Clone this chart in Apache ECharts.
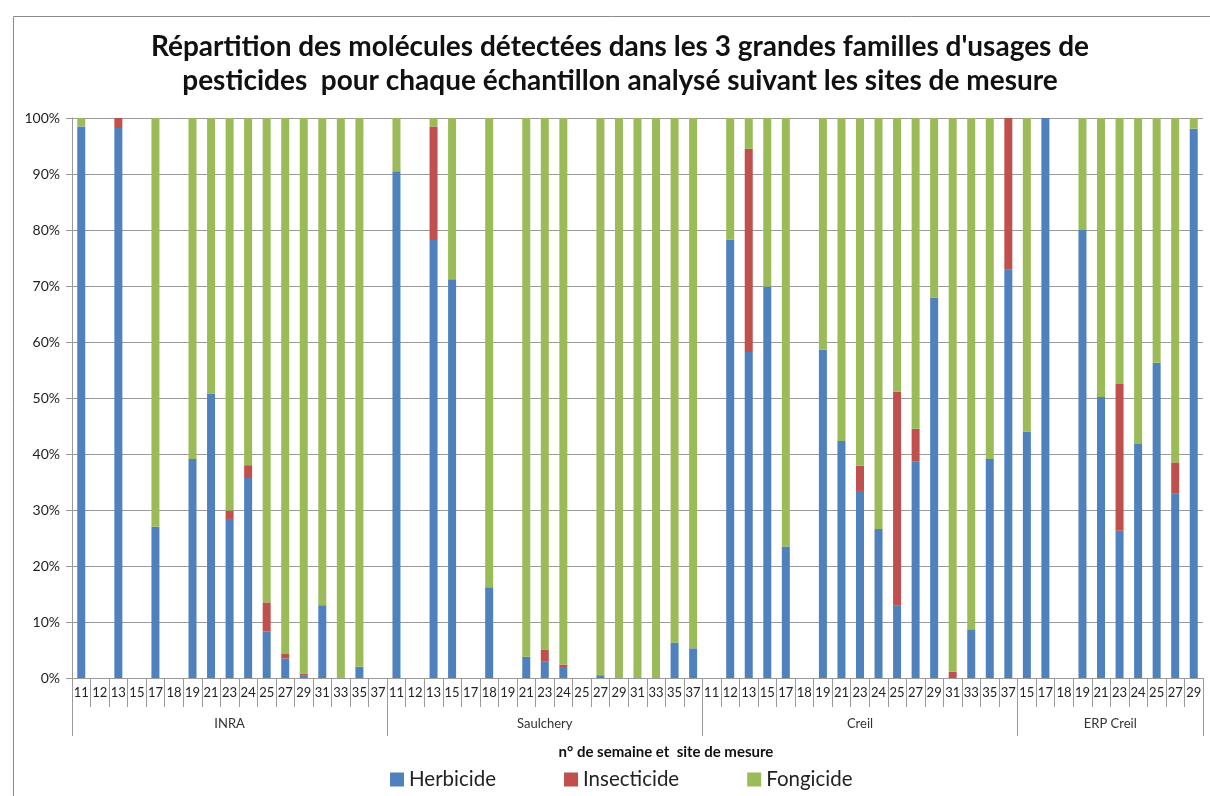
<!DOCTYPE html>
<html>
<head>
<meta charset="utf-8">
<script src="https://cdn.jsdelivr.net/npm/echarts@6/dist/echarts.min.js"></script>
<style>
  html, body { margin: 0; padding: 0; background: #fff; }
  #chart { width: 1210px; height: 796px; }
</style>
</head>
<body>
<div id="chart"></div>
<script>
const FONT = 'Lato, "Open Sans", sans-serif'

// sites de mesure and their weeks
const sites = ['INRA', 'Saulchery', 'Creil', 'ERP Creil']
const weeksInra = [11, 12, 13, 15, 17, 18, 19, 21, 23, 24, 25, 27, 29, 31, 33, 35, 37]
const weeksSaulchery = [11, 12, 13, 15, 17, 18, 19, 21, 23, 24, 25, 27, 29, 31, 33, 35, 37]
const weeksCreil = [11, 12, 13, 15, 17, 18, 19, 21, 23, 24, 25, 27, 29, 31, 33, 35, 37]
const weeksErpCreil = [15, 17, 18, 19, 21, 23, 24, 25, 27, 29]

// % per sample, in the order INRA | Saulchery | Creil | ERP Creil (null = no sample)
const herbicide = [
  98.5, null, 98.2, null, 27.0, null, 39.1, 50.8, 28.4, 35.7, 8.3, 3.5, 0.4, 13.0, 0, 2.0, null,
  90.5, null, 78.2, 71.2, null, 16.2, null, 3.8, 3.0, 1.8, null, 0.5, 0, 0, 0, 6.3, 5.3,
  null, 78.3, 58.2, 69.9, 23.5, null, 58.6, 42.3, 33.4, 26.6, 12.9, 38.7, 67.9, 0, 8.7, 39.1, 72.9,
  44.0, 100, null, 80.0, 50.2, 26.3, 41.8, 56.3, 32.9, 98.1
]
const insecticide = [
  0, null, 1.8, null, 0, null, 0, 0, 1.5, 2.3, 5.2, 0.8, 0.4, 0, 0, 0, null,
  0, null, 20.3, 0, null, 0, null, 0, 2.0, 0.6, null, 0, 0, 0, 0, 0, 0,
  null, 0, 36.3, 0, 0, null, 0, 0, 4.5, 0, 38.2, 5.8, 0, 1.1, 0, 0, 27.1,
  0, 0, null, 0, 0, 26.2, 0, 0, 5.6, 0
]
const fongicide = [
  1.5, null, 0, null, 73.0, null, 60.9, 49.2, 70.1, 62.0, 86.5, 95.7, 99.2, 87.0, 100, 98.0, null,
  9.5, null, 1.5, 28.8, null, 83.8, null, 96.2, 95.0, 97.6, null, 99.5, 100, 100, 100, 93.7, 94.7,
  null, 21.7, 5.5, 30.1, 76.5, null, 41.4, 57.7, 62.1, 73.4, 48.9, 55.5, 32.1, 98.9, 91.3, 60.9, 0,
  56.0, 0, null, 20.0, 49.8, 47.5, 58.2, 43.7, 61.5, 1.9
]

const siteWeeks = [weeksInra, weeksSaulchery, weeksCreil, weeksErpCreil]
const cats = []
siteWeeks.forEach((ws, i) => ws.forEach(w => cats.push(sites[i] + '|' + w)))

// group boundaries / centres on a 0..N value axis laid over the category bands
const bounds = [0]
siteWeeks.forEach(ws => bounds.push(bounds[bounds.length - 1] + ws.length))
const centers = sites.map((s, i) => (bounds[i] + bounds[i + 1]) / 2)

const chart = echarts.init(document.getElementById('chart'))
const grey = '#9a9a9a'

chart.setOption({
  animation: false,
  textStyle: { fontFamily: FONT },
  title: [
    {
      text: 'Répartition des molécules détectées dans les 3 grandes familles d\'usages de\npesticides  pour chaque échantillon analysé suivant les sites de mesure',
      left: 615, top: 25, textAlign: 'center',
      textStyle: { fontFamily: FONT, fontSize: 28, fontWeight: 'bold', color: '#111', lineHeight: 34 }
    },
    {
      text: 'n° de semaine et  site de mesure',
      left: 661, top: 740, textAlign: 'center',
      textStyle: { fontFamily: FONT, fontSize: 15, fontWeight: 'bold', color: '#111' }
    }
  ],
  legend: {
    left: 385, top: 764, icon: 'rect', itemWidth: 14, itemHeight: 14, itemGap: 68,
    textStyle: { fontFamily: FONT, fontSize: 20.5, color: '#222' }
  },
  grid: { left: 72, right: 7, top: 118, bottom: 118 },
  xAxis: [
    {
      type: 'category', data: cats,
      axisLine: { lineStyle: { color: grey } },
      axisTick: { show: true, interval: 0, length: 29, lineStyle: { color: grey } },
      axisLabel: { interval: 0, margin: 8, fontSize: 13, color: '#222', formatter: v => v.split('|')[1] }
    },
    {
      type: 'value', min: 0, max: cats.length, position: 'bottom',
      axisLine: { show: false }, splitLine: { show: false },
      axisTick: { show: true, customValues: bounds, length: 58, lineStyle: { color: grey } },
      axisLabel: {
        customValues: centers, margin: 39, fontSize: 13, color: '#333',
        formatter: v => sites[centers.indexOf(v)] || ''
      }
    }
  ],
  yAxis: {
    type: 'value', min: 0, max: 100, interval: 10,
    axisLine: { show: true, lineStyle: { color: grey } },
    axisTick: { show: true, length: 6, lineStyle: { color: grey } },
    splitLine: { lineStyle: { color: grey } },
    axisLabel: { formatter: '{value}%', fontSize: 14, color: '#222', margin: 12 }
  },
  graphic: [{
    type: 'rect', left: 11, top: 14, silent: true,
    shape: { width: 1220, height: 800 },
    style: { fill: 'none', stroke: '#8a8a8a', lineWidth: 1 }
  }],
  series: [
    { name: 'Herbicide', type: 'bar', stack: 'tot', barWidth: 8, itemStyle: { color: '#4f81bd' }, data: herbicide },
    { name: 'Insecticide', type: 'bar', stack: 'tot', barWidth: 8, itemStyle: { color: '#c0504d' }, data: insecticide },
    { name: 'Fongicide', type: 'bar', stack: 'tot', barWidth: 8, itemStyle: { color: '#9bbb59' }, data: fongicide }
  ]
})
</script>
</body>
</html>
